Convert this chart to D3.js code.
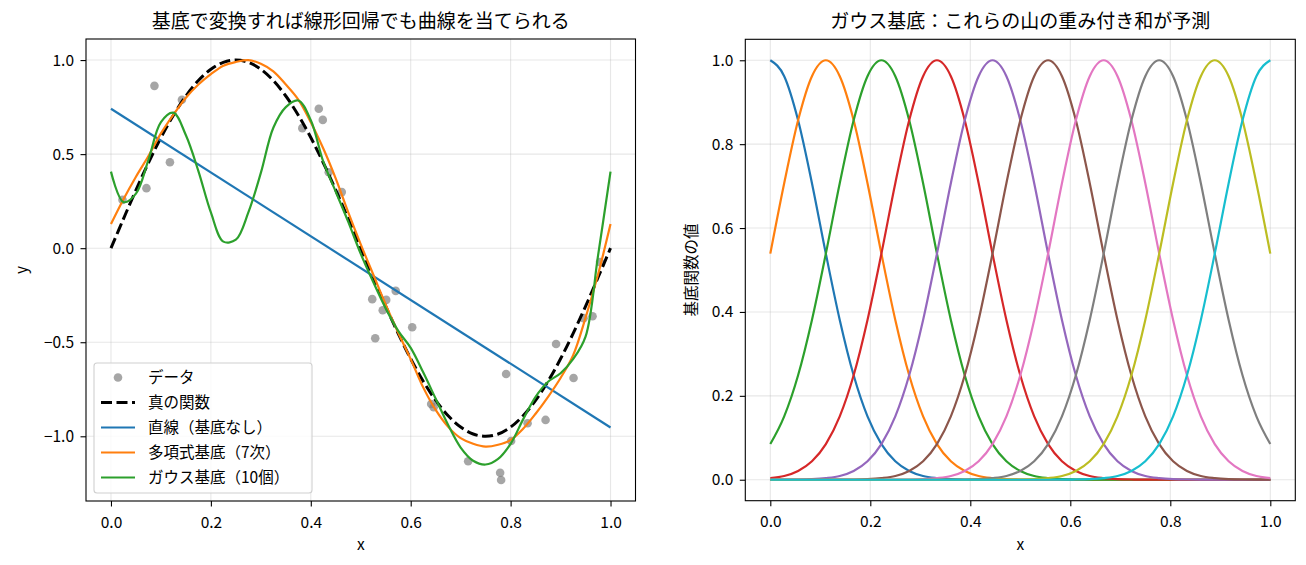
<!DOCTYPE html>
<html>
<head>
<meta charset="utf-8">
<script src="https://cdn.jsdelivr.net/npm/d3@7"></script>
<style>
  body { margin: 0; background: #fff; }
  svg text { font-family: "Noto Sans CJK JP", "Noto Sans", sans-serif; fill: #000; }
</style>
</head>
<body>
<svg id="chart" width="1306" height="565"></svg>
<script>
// ---- left panel: noisy samples ----
var dataX = [0.023, 0.071, 0.087, 0.118, 0.142, 0.383, 0.416, 0.424, 0.436, 0.462,
             0.523, 0.529, 0.544, 0.551, 0.570, 0.603, 0.641, 0.646, 0.715, 0.779,
             0.781, 0.791, 0.801, 0.834, 0.870, 0.891, 0.926, 0.946, 0.964, 0.979];
var dataY = [0.257, 0.319, 0.863, 0.457, 0.789, 0.638, 0.741, 0.682, 0.404, 0.298,
             -0.271, -0.479, -0.330, -0.275, -0.227, -0.420, -0.828, -0.845, -1.133, -1.194,
             -1.232, -0.669, -1.025, -0.931, -0.913, -0.509, -0.690, -0.372, -0.362, -0.074];

var fitX = [0, 0.025, 0.05, 0.075, 0.1, 0.125, 0.15, 0.175, 0.2, 0.225, 0.25, 0.275, 0.3, 0.325,
            0.35, 0.375, 0.4, 0.425, 0.45, 0.475, 0.5, 0.525, 0.55, 0.575, 0.6, 0.625, 0.65,
            0.675, 0.7, 0.725, 0.75, 0.775, 0.8, 0.825, 0.85, 0.875, 0.9, 0.925, 0.95, 0.975, 1];
var trueY = [0, 0.156, 0.309, 0.454, 0.588, 0.707, 0.809, 0.891, 0.951, 0.988, 1, 0.988, 0.951, 0.891,
             0.809, 0.707, 0.588, 0.454, 0.309, 0.156, 0, -0.156, -0.309, -0.454, -0.588, -0.707, -0.809,
             -0.891, -0.951, -0.988, -1, -0.988, -0.951, -0.891, -0.809, -0.707, -0.588, -0.454, -0.309, -0.156, 0];
var polyY = [0.128, 0.26, 0.38, 0.49, 0.61, 0.71, 0.80, 0.87, 0.925, 0.97, 0.99, 1.0, 0.98, 0.94,
             0.87, 0.79, 0.67, 0.53, 0.37, 0.19, 0.02, -0.14, -0.30, -0.45, -0.59, -0.74, -0.86,
             -0.95, -1.01, -1.04, -1.055, -1.045, -1.02, -0.96, -0.88, -0.79, -0.69, -0.57, -0.37, -0.14, 0.128];
var gaussY = [0.407, 0.245, 0.29, 0.47, 0.67, 0.72, 0.60, 0.41, 0.19, 0.035, 0.045, 0.19, 0.40, 0.64,
              0.75, 0.785, 0.68, 0.46, 0.30, 0.14, -0.03, -0.18, -0.32, -0.44, -0.53, -0.66, -0.80,
              -0.94, -1.06, -1.13, -1.15, -1.12, -1.04, -0.91, -0.79, -0.71, -0.665, -0.59, -0.47, -0.04, 0.407];
var lineX = [0, 1];
var lineY = [0.741, -0.953];

var legendLabels = ['データ', '真の関数', '直線（基底なし）', '多項式基底（7次）', 'ガウス基底（10個）'];

var basisX = [0, 0.0278, 0.0556, 0.0833, 0.1111, 0.1389, 0.1667, 0.1944, 0.2222, 0.25, 0.2778, 0.3056,
              0.3333, 0.3611, 0.3889, 0.4167, 0.4444, 0.4722, 0.5, 0.5278, 0.5556, 0.5833, 0.6111,
              0.6389, 0.6667, 0.6944, 0.7222, 0.75, 0.7778, 0.8056, 0.8333, 0.8611, 0.8889, 0.9167,
              0.9444, 0.9722, 1];
var basis0 = [1, .962, .857, .707, .539, .381, .249, .151, .085, .044, .021, .009, .004, .0015, .0005, .0002,
              0, 0, 0, 0, 0, 0, 0, 0, 0, 0, 0, 0, 0, 0, 0, 0, 0, 0, 0, 0, 0];
var basis1 = [.539, .707, .857, .962, 1, .962, .857, .707, .539, .381, .249, .151, .085, .044, .021, .009,
              .004, .0015, .0005, .0002, 0, 0, 0, 0, 0, 0, 0, 0, 0, 0, 0, 0, 0, 0, 0, 0, 0];
var basis2 = [.085, .151, .249, .381, .539, .707, .857, .962, 1, .962, .857, .707, .539, .381, .249, .151,
              .085, .044, .021, .009, .004, .0015, .0005, .0002, 0, 0, 0, 0, 0, 0, 0, 0, 0, 0, 0, 0, 0];
var basis3 = [.004, .009, .021, .044, .085, .151, .249, .381, .539, .707, .857, .962, 1, .962, .857, .707,
              .539, .381, .249, .151, .085, .044, .021, .009, .004, .0015, .0005, .0002, 0, 0, 0, 0, 0, 0, 0, 0, 0];
var basis4 = [0, .0002, .0005, .0015, .004, .009, .021, .044, .085, .151, .249, .381, .539, .707, .857, .962,
              1, .962, .857, .707, .539, .381, .249, .151, .085, .044, .021, .009, .004, .0015, .0005, .0002,
              0, 0, 0, 0, 0];
var basis5 = [0, 0, 0, 0, 0, .0002, .0005, .0015, .004, .009, .021, .044, .085, .151, .249, .381, .539, .707,
              .857, .962, 1, .962, .857, .707, .539, .381, .249, .151, .085, .044, .021, .009, .004, .0015,
              .0005, .0002, 0];
var basis6 = [0, 0, 0, 0, 0, 0, 0, 0, 0, .0002, .0005, .0015, .004, .009, .021, .044, .085, .151, .249, .381,
              .539, .707, .857, .962, 1, .962, .857, .707, .539, .381, .249, .151, .085, .044, .021, .009, .004];
var basis7 = [0, 0, 0, 0, 0, 0, 0, 0, 0, 0, 0, 0, 0, .0002, .0005, .0015, .004, .009, .021, .044, .085, .151,
              .249, .381, .539, .707, .857, .962, 1, .962, .857, .707, .539, .381, .249, .151, .085];
var basis8 = [0, 0, 0, 0, 0, 0, 0, 0, 0, 0, 0, 0, 0, 0, 0, 0, 0, .0002, .0005, .0015, .004, .009, .021, .044,
              .085, .151, .249, .381, .539, .707, .857, .962, 1, .962, .857, .707, .539];
var basis9 = [0, 0, 0, 0, 0, 0, 0, 0, 0, 0, 0, 0, 0, 0, 0, 0, 0, 0, 0, 0, 0, .0002, .0005, .0015, .004, .009,
              .021, .044, .085, .151, .249, .381, .539, .707, .857, .962, 1];
var basisList = [basis0, basis1, basis2, basis3, basis4, basis5, basis6, basis7, basis8, basis9];

// ---- ticks ----
var xTicks = [0, 0.2, 0.4, 0.6, 0.8, 1.0];
var leftYTicks = [-1.0, -0.5, 0, 0.5, 1.0];
var rightYTicks = [0, 0.2, 0.4, 0.6, 0.8, 1.0];

var tab10 = ['#1f77b4', '#ff7f0e', '#2ca02c', '#d62728', '#9467bd',
             '#8c564b', '#e377c2', '#7f7f7f', '#bcbd22', '#17becf'];

var svg = d3.select('#chart');
var fmt = d3.format('.1f');

function makePanel(box, yDomain, yTicks, title, xlabel, ylabel, ylabelX) {
    var x = d3.scaleLinear().domain([-0.05, 1.05]).range([box.left, box.right]);
    var y = d3.scaleLinear().domain(yDomain).range([box.bottom, box.top]);

    // grid
    var grid = svg.append('g');
    grid.selectAll('line.gx').data(xTicks).enter().append('line')
        .attr('x1', function(d) { return x(d); }).attr('x2', function(d) { return x(d); })
        .attr('y1', box.top).attr('y2', box.bottom);
    grid.selectAll('line.gy').data(yTicks).enter().append('line')
        .attr('y1', function(d) { return y(d); }).attr('y2', function(d) { return y(d); })
        .attr('x1', box.left).attr('x2', box.right);
    grid.selectAll('line').attr('stroke', '#b0b0b0').attr('stroke-opacity', 0.3).attr('stroke-width', 1.1);

    var plot = svg.append('g');

    // axes
    var gx = svg.append('g').attr('transform', 'translate(0,' + box.bottom + ')')
        .call(d3.axisBottom(x).tickValues(xTicks).tickFormat(fmt).tickSize(5.5).tickPadding(10));
    var gy = svg.append('g').attr('transform', 'translate(' + box.left + ',0)')
        .call(d3.axisLeft(y).tickValues(yTicks).tickFormat(fmt).tickSize(5.5).tickPadding(6.5));
    [gx, gy].forEach(function(a) {
        a.select('.domain').remove();
        a.selectAll('.tick line').attr('stroke', '#000').attr('stroke-width', 1.1);
        a.selectAll('.tick text').style('font-size', '15.5px');
    });

    // frame
    svg.append('rect')
        .attr('x', box.left).attr('y', box.top)
        .attr('width', box.right - box.left).attr('height', box.bottom - box.top)
        .attr('fill', 'none').attr('stroke', '#000').attr('stroke-width', 1.1);

    // title and labels
    var cx = (box.left + box.right) / 2, cy = (box.top + box.bottom) / 2;
    svg.append('text').attr('x', cx).attr('y', 28).attr('text-anchor', 'middle')
        .style('font-size', '19px').text(title);
    svg.append('text').attr('x', cx).attr('y', 550).attr('text-anchor', 'middle')
        .style('font-size', '15.5px').text(xlabel);
    svg.append('text').attr('transform', 'translate(' + ylabelX + ',' + cy + ') rotate(-90)')
        .attr('text-anchor', 'middle').attr('dy', '0.35em')
        .style('font-size', '15.5px').text(ylabel);

    return { x: x, y: y, plot: plot };
}

// ---------- left panel ----------
var L = makePanel({ left: 86, right: 635.5, top: 39, bottom: 501 }, [-1.344, 1.112], leftYTicks,
    '基底で変換すれば線形回帰でも曲線を当てられる', 'x', 'y', 22);

var fitLine = d3.line()
    .x(function(d) { return L.x(d[0]); })
    .y(function(d) { return L.y(d[1]); })
    .curve(d3.curveCatmullRom);

L.plot.selectAll('circle').data(d3.zip(dataX, dataY)).enter().append('circle')
    .attr('cx', function(d) { return L.x(d[0]); })
    .attr('cy', function(d) { return L.y(d[1]); })
    .attr('r', 4.3).attr('fill', 'gray').attr('fill-opacity', 0.7);

L.plot.append('path').datum(d3.zip(fitX, trueY)).attr('d', fitLine)
    .attr('fill', 'none').attr('stroke', '#000').attr('stroke-width', 3).attr('stroke-dasharray', '11,4.5');
L.plot.append('path').datum(d3.zip(lineX, lineY)).attr('d', fitLine)
    .attr('fill', 'none').attr('stroke', tab10[0]).attr('stroke-width', 2.2);
L.plot.append('path').datum(d3.zip(fitX, polyY)).attr('d', fitLine)
    .attr('fill', 'none').attr('stroke', tab10[1]).attr('stroke-width', 2.2);
L.plot.append('path').datum(d3.zip(fitX, gaussY)).attr('d', fitLine)
    .attr('fill', 'none').attr('stroke', tab10[2]).attr('stroke-width', 2.2);

// legend
var legend = svg.append('g');
legend.append('rect').attr('x', 94).attr('y', 363).attr('width', 218).attr('height', 130)
    .attr('rx', 3).attr('fill', '#fff').attr('fill-opacity', 0.8)
    .attr('stroke', '#d0d0d0').attr('stroke-width', 1.1);
var rowY = function(i) { return 377.5 + i * 25; };
legend.append('circle').attr('cx', 118).attr('cy', rowY(0)).attr('r', 4.3)
    .attr('fill', 'gray').attr('fill-opacity', 0.7);
legend.append('line').attr('x1', 101).attr('x2', 135).attr('y1', rowY(1)).attr('y2', rowY(1))
    .attr('stroke', '#000').attr('stroke-width', 3).attr('stroke-dasharray', '11,4.5');
[tab10[0], tab10[1], tab10[2]].forEach(function(c, i) {
    legend.append('line').attr('x1', 101).attr('x2', 135).attr('y1', rowY(i + 2)).attr('y2', rowY(i + 2))
        .attr('stroke', c).attr('stroke-width', 2.2);
});
legend.selectAll('text').data(legendLabels).enter().append('text')
    .attr('x', 148).attr('y', function(d, i) { return rowY(i); }).attr('dy', '0.35em')
    .style('font-size', '15.5px').text(function(d) { return d; });

// ---------- right panel ----------
var R = makePanel({ left: 745.3, right: 1295.3, top: 39.3, bottom: 500.7 }, [-0.05, 1.05], rightYTicks,
    'ガウス基底：これらの山の重み付き和が予測', 'x', '基底関数の値', 692);

var bumpLine = d3.line()
    .x(function(d) { return R.x(d[0]); })
    .y(function(d) { return R.y(d[1]); })
    .curve(d3.curveMonotoneX);

basisList.forEach(function(b, i) {
    R.plot.append('path').datum(d3.zip(basisX, b)).attr('d', bumpLine)
        .attr('fill', 'none').attr('stroke', tab10[i]).attr('stroke-width', 2.2);
});
</script>
</body>
</html>
